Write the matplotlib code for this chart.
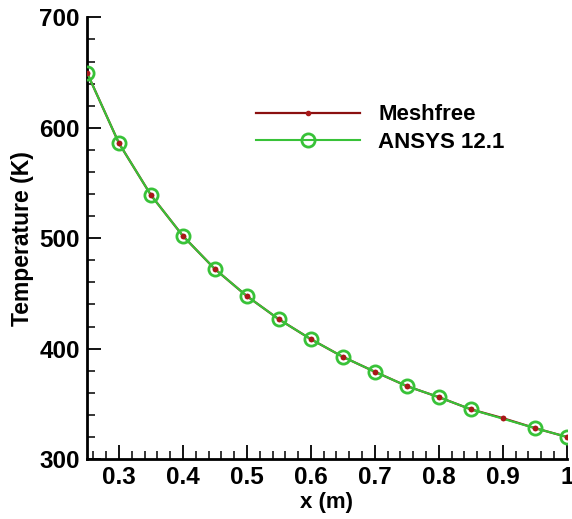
import matplotlib.pyplot as plt
from matplotlib.ticker import MultipleLocator, FuncFormatter

# temperature along the bar, x in metres
x_meshfree = [0.25, 0.30, 0.35, 0.40, 0.45, 0.50, 0.55, 0.60, 0.65, 0.70,
              0.75, 0.80, 0.85, 0.90, 0.95, 1.00]
t_meshfree = [650, 586, 539, 502, 472, 447.5, 426.5, 408.5, 392.5, 379,
              366, 356, 345, 337, 328, 320]

x_ansys = [0.25, 0.30, 0.35, 0.40, 0.45, 0.50, 0.55, 0.60, 0.65, 0.70,
           0.75, 0.80, 0.85, 0.95, 1.00]
t_ansys = [650, 586, 539, 502, 472, 447.5, 426.5, 408.5, 392.5, 379,
           366, 356, 345, 328, 320]

plt.rcParams['font.family'] = ['Liberation Sans', 'DejaVu Sans']
plt.rcParams['font.weight'] = 'bold'

fig = plt.figure(figsize=(5.72, 5.19), dpi=100)
ax = fig.add_axes([0.152, 0.1156, 0.839, 0.851])

red = '#8b1010'
green = '#38c238'

# meshfree line sits under the green one, its dots stay on top
ax.plot(x_meshfree, t_meshfree, color=red, lw=1.6, marker='o', ms=3,
        mfc='#a81818', mec='#a81818', label='Meshfree', zorder=2)
ax.plot(x_ansys, t_ansys, color=green, lw=1.5, marker='o', ms=9.5,
        mfc='none', mec=green, mew=2, label='ANSYS 12.1', zorder=3)
ax.plot(x_meshfree, t_meshfree, ls='none', marker='o', ms=3,
        mfc='#a81818', mec='#a81818', zorder=4)

ax.set_xlim(0.25, 1.0)
ax.set_ylim(300, 700)
ax.xaxis.set_major_locator(MultipleLocator(0.1))
ax.xaxis.set_minor_locator(MultipleLocator(0.02))
ax.yaxis.set_major_locator(MultipleLocator(100))
ax.yaxis.set_minor_locator(MultipleLocator(20))
ax.xaxis.set_major_formatter(FuncFormatter(lambda v, p: ('%g' % round(v, 2))))

for side in ['top', 'right']:
    ax.spines[side].set_visible(False)
for side in ['left', 'bottom']:
    ax.spines[side].set_linewidth(2)

ax.tick_params(which='major', direction='in', length=10, width=1.3,
               labelsize=17.5, pad=5)
ax.tick_params(which='minor', direction='in', length=6, width=1.1)

ax.set_xlabel('x (m)', fontsize=16, fontweight='bold', labelpad=2)
ax.set_ylabel('Temperature (K)', fontsize=16.5, fontweight='bold', labelpad=4)

ax.legend(loc='upper left', bbox_to_anchor=(0.4476, 0.799),
          bbox_transform=fig.transFigure, frameon=False, fontsize=16,
          handlelength=4.7, handletextpad=0.8, labelspacing=0.3,
          borderpad=0, borderaxespad=0)

fig.savefig('out.png', dpi=100)
